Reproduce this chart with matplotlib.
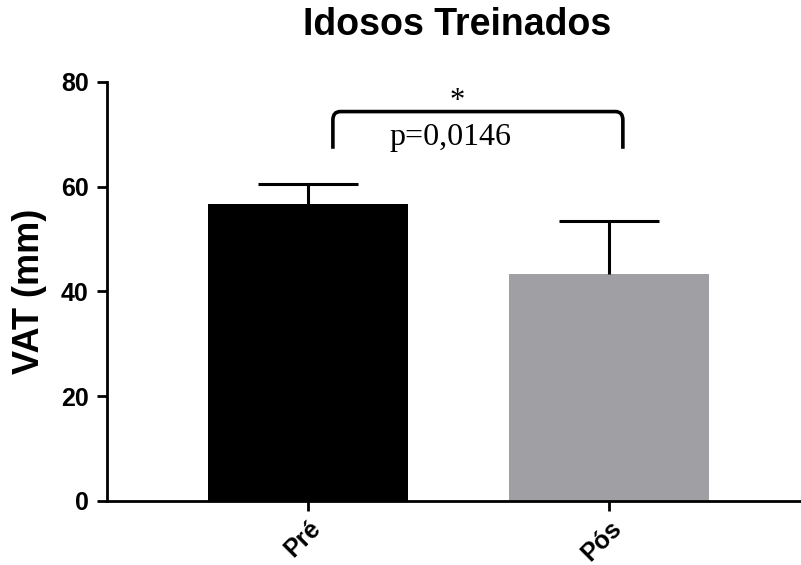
import matplotlib
matplotlib.use("Agg")
import matplotlib.pyplot as plt
from matplotlib.path import Path
from matplotlib.patches import PathPatch

# Data
groups = ["Pré", "Pós"]
means = [56.7, 43.3]
sd = [3.8, 10.2]
bar_colors = ["#000000", "#a0a0a4"]
y_ticks = [0, 20, 40, 60, 80]
title = "Idosos Treinados"
y_label = "VAT (mm)"
p_text = "p=0,0146"
star = "*"

plt.rcParams["font.family"] = ["Liberation Sans", "DejaVu Sans"]

fig = plt.figure(figsize=(8.01, 5.65), dpi=100)
ax = fig.add_axes([0.1332, 0.1133, 0.8656, 0.7421])

x = list(range(len(groups)))
bar_w = 0.665
ax.bar(x, means, width=bar_w, color=bar_colors, edgecolor="none", zorder=2)

# upward-only error bars with caps
cap_half = 0.166
for xi, m, s in zip(x, means, sd):
    ax.plot([xi, xi], [m, m + s], color="black", lw=2.2, zorder=3,
            solid_capstyle="butt")
    ax.plot([xi - cap_half, xi + cap_half], [m + s, m + s], color="black",
            lw=2.2, zorder=3, solid_capstyle="butt")

ax.set_xlim(-0.67, 1.635)
ax.set_ylim(0, 80)

# significance bracket with rounded corners
xl, xr = 0.082, 1.046
yb, yt = 67.2, 74.3
r_x, r_y = 0.025, 1.6
verts = [(xl, yb), (xl, yt - r_y), (xl, yt), (xl + r_x, yt),
         (xr - r_x, yt), (xr, yt), (xr, yt - r_y), (xr, yb)]
codes = [Path.MOVETO, Path.LINETO, Path.CURVE3, Path.CURVE3,
         Path.LINETO, Path.CURVE3, Path.CURVE3, Path.LINETO]
ax.add_patch(PathPatch(Path(verts, codes), facecolor="none", edgecolor="black",
                       lw=2.6, capstyle="butt", clip_on=False, zorder=4))
ax.text(0.495, 76.2, star, ha="center", va="center", fontsize=22,
        family="Liberation Serif")
ax.text(0.472, 69.3, p_text, ha="center", va="center", fontsize=23,
        family="Liberation Serif")

# axes styling
for side in ("top", "right"):
    ax.spines[side].set_visible(False)
for side in ("left", "bottom"):
    ax.spines[side].set_linewidth(2.0)
ax.set_yticks(y_ticks)
ax.set_yticklabels([str(v) for v in y_ticks], fontsize=18, fontweight="bold")
ax.set_xticks(x)
ax.set_xticklabels(groups, fontsize=18, fontweight="bold", rotation=45,
                   ha="right", va="top", rotation_mode="anchor")
ax.tick_params(axis="both", length=7, width=2.0)
ax.tick_params(axis="y", pad=6)
ax.tick_params(axis="x", pad=4)

ax.set_ylabel(y_label, fontsize=26, fontweight="bold", labelpad=10)
fig.text(0.5702, 0.955, title, ha="center", va="center", fontsize=27,
         fontweight="bold")

fig.savefig("out.png", dpi=100)
